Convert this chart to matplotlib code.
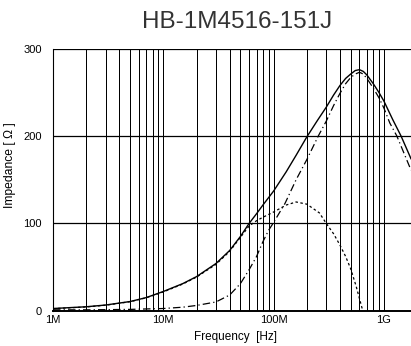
import numpy as np
import matplotlib
matplotlib.use('Agg')
from matplotlib import pyplot as plt

plt.rcParams['font.family'] = ['Liberation Sans', 'DejaVu Sans']

# frequencies in MHz, impedance in ohm
freq_z = [1, 2, 3, 5, 7, 10, 15, 20, 30, 40, 50, 60, 70, 80, 100, 130, 160, 200,
          250, 300, 350, 400, 450, 500, 550, 600, 650, 700, 800, 900, 1000, 1200,
          1430, 1760]
z_vals = [2.5, 4.5, 6.5, 10.5, 15, 22, 31, 39, 54, 69, 85, 100, 111, 121, 137,
          159, 178, 199, 218, 233, 247, 258, 266, 271, 275, 276, 274, 270, 260,
          250, 240, 219, 200, 174]

freq_r = [1, 2, 3, 5, 7, 10, 15, 20, 30, 40, 50, 60, 70, 80, 90, 100, 127, 160,
          200, 254, 300, 350, 400, 450, 500, 550, 600, 650, 700, 800, 900, 1000,
          1130, 1310, 1760]
r_vals = [1, 1, 1.2, 1.5, 2, 2.5, 4, 6, 10, 18, 31, 47, 62, 79, 92, 101, 123, 150,
          173, 200, 217, 235, 249, 260, 267, 271, 273, 271, 266, 255, 244, 232,
          215, 200, 161]

freq_x = [1, 2, 3, 5, 7, 10, 15, 20, 30, 40, 50, 60, 70, 80, 100, 130, 160, 200,
          260, 300, 350, 400, 450, 500, 560, 600, 630, 645]
x_vals = [2.3, 4.3, 6.3, 10.3, 14.8, 21.5, 30.5, 38.5, 53, 68, 84, 97, 103, 107,
          113, 121, 124.5, 122, 112, 100, 88, 75, 62, 48, 28, 14, 4, 0]

tick_pos = [1e6, 1e7, 1e8, 1e9]
tick_labels = ['1M', '10M', '100M', '1G']


fig = plt.figure(figsize=(4.11, 3.46), dpi=100)
ax = fig.add_axes([53 / 411, 1 - 310.7 / 346, 1 - 53 / 411, (310.7 - 48.7) / 346])

# grid: every 1..9 of each decade
for dec in [1e6, 1e7, 1e8, 1e9]:
    for m in range(1, 10):
        f = dec * m
        if f <= 1.76e9:
            ax.axvline(f, color='black', lw=0.72, zorder=1)
for v in [100, 200, 300]:
    ax.axhline(v, color='black', lw=0.9, zorder=1)

ax.plot(np.array(freq_z) * 1e6, z_vals, color='black', lw=1.0, zorder=3)
ax.plot(np.array(freq_r) * 1e6, r_vals, color='black', lw=0.9, zorder=3,
        dashes=(6, 2.5, 1, 2.5))
ax.plot(np.array(freq_x) * 1e6, x_vals, color='black', lw=0.9, zorder=3,
        dashes=(2, 2))

ax.set_xscale('log')
ax.set_xlim(1e6, 1.76e9)
ax.set_ylim(0, 300)
ax.set_xticks(tick_pos)
ax.set_xticklabels(tick_labels)
ax.xaxis.set_minor_locator(matplotlib.ticker.NullLocator())
ax.set_yticks([0, 100, 200, 300])
ax.tick_params(length=0, labelsize=8, pad=8)
ax.tick_params(axis='x', pad=3)

for s in ['top', 'right']:
    ax.spines[s].set_visible(False)
ax.spines['bottom'].set_linewidth(1.4)
ax.spines['left'].set_linewidth(0.8)

fig.text(237 / 411, 1 - 22 / 346, 'HB-1M4516-151J', ha='center', va='center',
         fontsize=17.5, color='#333333')
fig.text(235 / 411, 1 - 337 / 346, 'Frequency  [Hz]', ha='center', va='center',
         fontsize=8.5)
fig.text(10 / 411, 1 - 165 / 346, 'Impedance [ \u03a9 ]', ha='center', va='center',
         fontsize=8.7, rotation=90)

fig.savefig('out.png', dpi=100)
